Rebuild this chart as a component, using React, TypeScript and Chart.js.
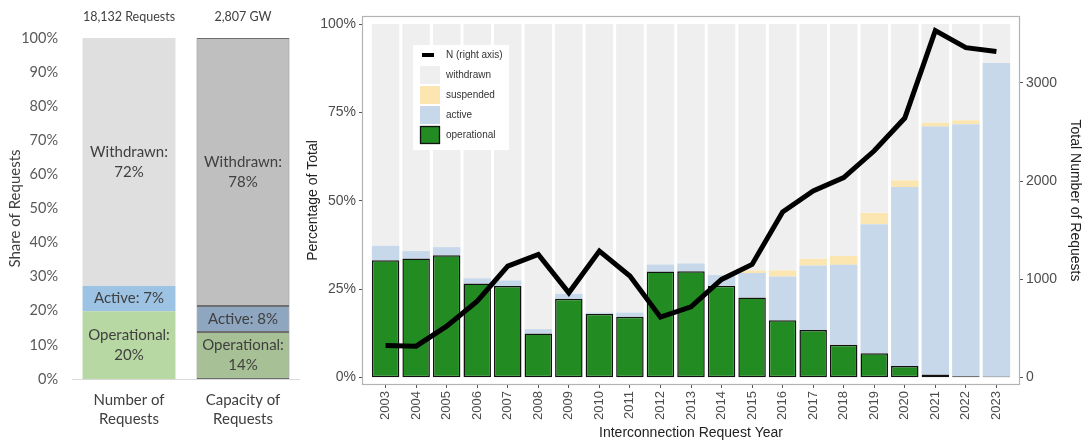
import React, { useEffect, useRef } from "react";
import { Chart, registerables } from "chart.js";
Chart.register(...registerables);

// ---------- Left panel data ----------
const shareCategories = [["Number of", "Requests"], ["Capacity of", "Requests"]];
const shareTotals = ["18,132 Requests", "2,807 GW"];
const shareOperational = [19.9, 13.8];
const shareActive = [7.4, 7.6];
const shareWithdrawn = [72.7, 78.6];
const shareOperationalLabels = [["Operational:", "20%"], ["Operational:", "14%"]];
const shareActiveLabels = [["Active: 7%"], ["Active: 8%"]];
const shareWithdrawnLabels = [["Withdrawn:", "72%"], ["Withdrawn:", "78%"]];

// ---------- Right panel data ----------
const years = [2003, 2004, 2005, 2006, 2007, 2008, 2009, 2010, 2011, 2012, 2013, 2014, 2015, 2016, 2017, 2018, 2019, 2020, 2021, 2022, 2023];
const operational = [33.2, 33.7, 34.6, 26.6, 25.9, 12.5, 22.3, 18.1, 17.2, 30.0, 30.1, 26.0, 22.7, 16.2, 13.5, 9.3, 6.9, 3.3, 0.9, 0.4, 0.3];
const active = [4.1, 2.1, 2.3, 1.5, 1.6, 1.2, 1.4, 0.3, 1.2, 2.0, 2.2, 3.0, 6.9, 12.4, 18.2, 22.6, 36.5, 50.6, 70.1, 71.3, 88.7];
const suspended = [0, 0, 0, 0, 0, 0, 0, 0, 0, 0, 0, 0, 0.7, 1.7, 1.9, 2.5, 3.2, 1.9, 1.1, 1.1, 0];
const withdrawn = [62.7, 64.2, 63.1, 71.9, 72.5, 86.3, 76.3, 81.6, 81.6, 68.0, 67.7, 71.0, 69.7, 69.7, 66.4, 65.6, 53.4, 44.2, 27.9, 27.2, 11.0];
const totalRequests = [327, 320, 524, 779, 1136, 1255, 864, 1289, 1034, 616, 721, 1000, 1153, 1687, 1901, 2037, 2310, 2643, 3534, 3360, 3320];
const pctTicks = [0, 25, 50, 75, 100];
const countTicks = [0, 1000, 2000, 3000];

const LEFT_FONT = "Lato, 'Open Sans', sans-serif";
const RIGHT_FONT = "'Liberation Sans', Arial, sans-serif";

const segmentLabelPlugin = {
  id: "segmentLabels",
  afterDatasetsDraw(chart: any) {
    const ctx = chart.ctx;
    const labelSets = [shareOperationalLabels, shareActiveLabels, shareWithdrawnLabels];
    ctx.save();
    ctx.font = `15px ${LEFT_FONT}`;
    ctx.fillStyle = "#404040";
    ctx.textAlign = "center";
    ctx.textBaseline = "middle";
    chart.data.datasets.forEach((ds: any, di: number) => {
      const meta = chart.getDatasetMeta(di);
      meta.data.forEach((bar: any, i: number) => {
        const lines = labelSets[di][i];
        const cy = (bar.y + bar.base) / 2;
        const lh = 20;
        const start = cy - ((lines.length - 1) * lh) / 2;
        lines.forEach((t: string, k: number) => ctx.fillText(t, bar.x, start + k * lh));
      });
    });
    ctx.restore();
  },
};

const panelPlugin = {
  id: "panelBorder",
  afterDatasetsDraw(chart: any) {
    const { ctx, chartArea } = chart;
    ctx.save();
    ctx.strokeStyle = "#b3b3b3";
    ctx.lineWidth = 1.2;
    ctx.strokeRect(Math.round(chartArea.left) - 0.5, Math.round(chartArea.top) - 0.5, Math.round(chartArea.width) + 1, Math.round(chartArea.height) + 1);
    ctx.restore();
  },
};

const legendPlugin = {
  id: "insideLegend",
  afterDraw(chart: any) {
    const { ctx, chartArea } = chart;
    const x0 = chartArea.left + 50;
    const y0 = chartArea.top + 28;
    ctx.save();
    ctx.fillStyle = "#ffffff";
    ctx.fillRect(x0, y0, 96, 105);
    const ds = chart.data.datasets;
    const rows = [ds[0], ds[4], ds[3], ds[2], ds[1]];
    ctx.font = `10px ${RIGHT_FONT}`;
    ctx.textBaseline = "middle";
    ctx.textAlign = "left";
    rows.forEach((d: any, r: number) => {
      const cy = y0 + 10 + r * 20;
      const kx = x0 + 7;
      if (d.type === "line") {
        ctx.strokeStyle = "#000";
        ctx.lineWidth = 4;
        ctx.beginPath();
        ctx.moveTo(kx + 2, cy);
        ctx.lineTo(kx + 14, cy);
        ctx.stroke();
      } else {
        ctx.fillStyle = d.backgroundColor;
        ctx.fillRect(kx, cy - 9, 20, 18);
        if (d.borderWidth) {
          ctx.strokeStyle = "#111";
          ctx.lineWidth = 1.3;
          ctx.strokeRect(kx + 0.5, cy - 9 + 0.5, 19, 17);
        }
      }
      ctx.fillStyle = "#333";
      ctx.fillText(d.label, x0 + 33, cy);
    });
    ctx.restore();
  },
};

export default function App() {
  const leftRef = useRef<HTMLCanvasElement>(null);
  const rightRef = useRef<HTMLCanvasElement>(null);

  useEffect(() => {
    const left = new Chart(leftRef.current!, {
      type: "bar",
      data: {
        labels: shareCategories as any,
        datasets: [
          {
            label: "Operational",
            data: shareOperational,
            backgroundColor: ["#b7d7a3", "#a8c095"],
            borderColor: ["rgba(0,0,0,0)", "#6e6e6e"],
            borderWidth: [0, 1] as any,
            borderSkipped: false,
          },
          {
            label: "Active",
            data: shareActive,
            backgroundColor: ["#9dc3e4", "#8ea6bf"],
            borderColor: ["rgba(0,0,0,0)", "#6e6e6e"],
            borderWidth: [0, 1] as any,
            borderSkipped: false,
          },
          {
            label: "Withdrawn",
            data: shareWithdrawn,
            backgroundColor: ["#dfdfdf", "#bfbfbf"],
            borderColor: ["rgba(0,0,0,0)", "#6e6e6e"],
            borderWidth: [0, 1] as any,
            borderSkipped: false,
          },
        ],
      },
      options: {
        animation: false,
        responsive: false,
        devicePixelRatio: 1,
        layout: { padding: 0 },
        datasets: { bar: { categoryPercentage: 1, barPercentage: 0.815 } },
        plugins: { legend: { display: false }, tooltip: { enabled: false } },
        scales: {
          x: {
            stacked: true,
            grid: { display: false },
            border: { display: true, color: "#d9d9d9", width: 1 },
            ticks: { font: { family: LEFT_FONT, size: 15, lineHeight: 1.3 }, color: "#404040", padding: 3 },
            afterFit: (s: any) => { s.height = 67; },
          },
          xTop: {
            type: "category",
            position: "top",
            labels: shareTotals,
            grid: { display: false },
            border: { display: false },
            ticks: { font: { family: LEFT_FONT, size: 12.5 }, color: "#404040", padding: 6 },
            afterFit: (s: any) => { s.height = 38; },
          },
          y: {
            stacked: true,
            min: 0,
            max: 100,
            ticks: { stepSize: 10, callback: (v: any) => v + "%", font: { family: LEFT_FONT, size: 14.5 }, color: "#595959", padding: 6 },
            grid: { display: false },
            border: { display: false },
            title: { display: true, text: "Share of Requests", font: { family: LEFT_FONT, size: 15 }, color: "#404040", padding: { top: 6, bottom: 0 } },
            afterFit: (s: any) => { s.width = 72; },
          },
        },
      } as any,
      plugins: [segmentLabelPlugin],
    });

    const right = new Chart(rightRef.current!, {
      type: "bar",
      data: {
        labels: years as any,
        datasets: [
          {
            type: "line",
            label: "N (right axis)",
            data: totalRequests,
            yAxisID: "y1",
            borderColor: "#000000",
            borderWidth: 5,
            pointRadius: 0,
            tension: 0,
            order: 0,
          } as any,
          {
            label: "operational",
            data: operational,
            backgroundColor: "#228b22",
            borderColor: "#111111",
            borderWidth: 1.5,
            borderSkipped: false,
            yAxisID: "y",
            order: 1,
          },
          { label: "active", data: active, backgroundColor: "#c6d8e9", borderWidth: 0, yAxisID: "y", order: 1 },
          { label: "suspended", data: suspended, backgroundColor: "#fbe5b1", borderWidth: 0, yAxisID: "y", order: 1 },
          { label: "withdrawn", data: withdrawn, backgroundColor: "#efefef", borderWidth: 0, yAxisID: "y", order: 1 },
        ],
      },
      options: {
        animation: false,
        responsive: false,
        devicePixelRatio: 1,
        layout: { padding: { top: 17, left: 0, right: 0, bottom: 0 } },
        datasets: { bar: { categoryPercentage: 1, barPercentage: 0.9 } },
        plugins: { legend: { display: false }, tooltip: { enabled: false } },
        scales: {
          x: {
            type: "linear",
            stacked: true,
            offset: false,
            min: years[0] - 0.74,
            max: years[years.length - 1] + 0.74,
            afterBuildTicks: (s: any) => { s.ticks = years.map((v) => ({ value: v })); },
            ticks: { autoSkip: false, minRotation: 90, maxRotation: 90, callback: (v: any) => String(v), font: { family: RIGHT_FONT, size: 13 }, color: "#4d4d4d", padding: 3 },
            grid: { display: true, offset: false, drawOnChartArea: false, drawTicks: true, tickLength: 4, color: "#555", lineWidth: 1 },
            border: { display: false },
            title: { display: true, text: "Interconnection Request Year", font: { family: RIGHT_FONT, size: 14 }, color: "#222", padding: { top: 0, bottom: 4.6 } },
            afterFit: (s: any) => { s.height = 62; },
          },
          y: {
            type: "linear",
            position: "left",
            stacked: true,
            min: -1.8,
            max: 102,
            afterBuildTicks: (s: any) => { s.ticks = pctTicks.map((v) => ({ value: v })); },
            ticks: { callback: (v: any) => v + "%", font: { family: RIGHT_FONT, size: 14 }, color: "#4d4d4d", padding: 3 },
            grid: { display: true, drawOnChartArea: false, drawTicks: true, tickLength: 4, color: "#555" },
            border: { display: false },
            title: { display: true, text: "Percentage of Total", font: { family: RIGHT_FONT, size: 14 }, color: "#222", padding: { top: 4.6, bottom: 0 } },
            afterFit: (s: any) => { s.width = 63; },
          },
          y1: {
            type: "linear",
            position: "right",
            min: -1.8 * 36,
            max: 102 * 36,
            afterBuildTicks: (s: any) => { s.ticks = countTicks.map((v) => ({ value: v })); },
            ticks: { callback: (v: any) => String(v), font: { family: RIGHT_FONT, size: 14 }, color: "#4d4d4d", padding: 3 },
            grid: { display: true, drawOnChartArea: false, drawTicks: true, tickLength: 4, color: "#555" },
            border: { display: false },
            title: { display: true, text: "Total Number of Requests", font: { family: RIGHT_FONT, size: 14 }, color: "#222", padding: { top: 6.6, bottom: 0 } },
            afterFit: (s: any) => { s.width = 71; },
          },
        },
      } as any,
      plugins: [panelPlugin, legendPlugin],
    });

    return () => {
      left.destroy();
      right.destroy();
    };
  }, []);

  return (
    <div style={{ position: "absolute", left: 0, top: 0, width: 1090, height: 446, background: "#ffffff" }}>
      <canvas ref={leftRef} width={300} height={446} style={{ position: "absolute", left: 0, top: 0, width: 300, height: 446 }} />
      <canvas ref={rightRef} width={790} height={446} style={{ position: "absolute", left: 300, top: 0, width: 790, height: 446 }} />
    </div>
  );
}
